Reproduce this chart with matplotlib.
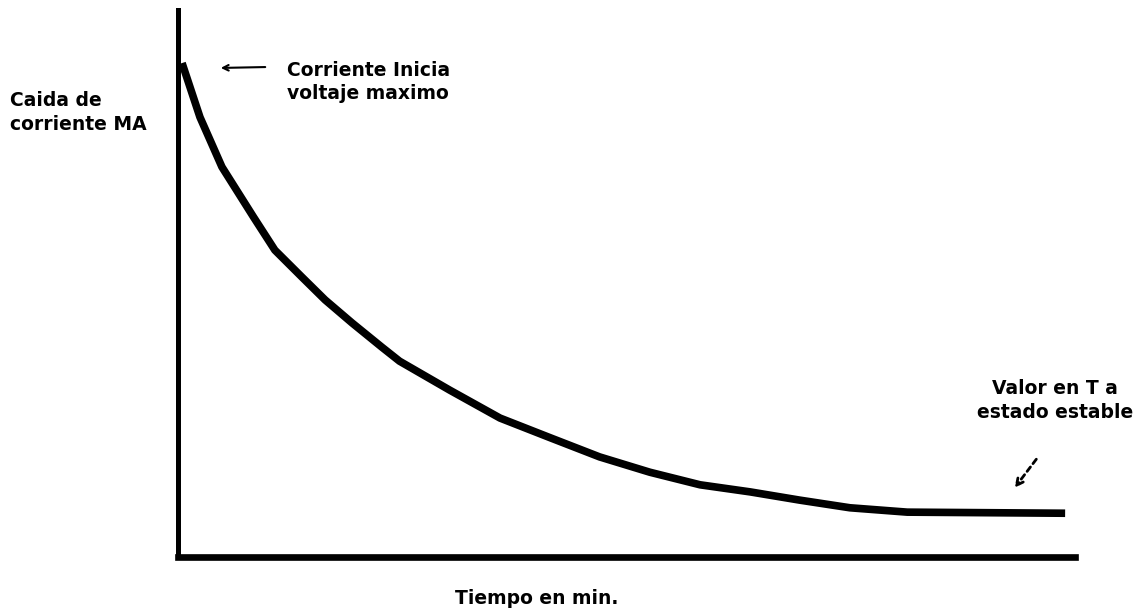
import matplotlib.pyplot as plt
from matplotlib.patches import FancyArrowPatch

# curve (time 0-100, current 0-100)
tiempo = [0.45, 2.45, 4.9, 8.4, 10.8, 13.8, 16.4, 19.4, 22.7, 24.7, 30.3, 35.9, 41.5,
          47.0, 52.6, 58.2, 63.8, 69.3, 74.9, 81.3, 98.9]
corriente = [90.3, 80.4, 71.3, 62.2, 56.1, 51.2, 47.0, 42.8, 38.4, 35.8, 30.5, 25.4, 21.8,
             18.3, 15.5, 13.2, 11.9, 10.4, 9.0, 8.2, 8.0]

W, H = 1143, 610
fig = plt.figure(figsize=(W / 100, H / 100), dpi=100)
ax = fig.add_axes([178 / W, (H - 557) / H, 897 / W, 547 / H])
ax.set_xlim(0, 100)
ax.set_ylim(0, 100)

ax.plot(tiempo, corriente, color='black', linewidth=5.5, solid_capstyle='butt')

for side in ['top', 'right']:
    ax.spines[side].set_visible(False)
ax.spines['left'].set_linewidth(3.6)
ax.spines['bottom'].set_linewidth(4.8)
ax.set_xticks([])
ax.set_yticks([])

font = dict(family='DejaVu Sans', fontweight='bold', fontsize=13.5, color='black', va='baseline')


def px(x, y):
    # pixel position -> figure fraction
    return x / W, 1 - y / H


fig.text(*px(10, 106), 'Caida de', ha='left', **font)
fig.text(*px(10, 130), 'corriente MA', ha='left', **font)
fig.text(*px(287, 76), 'Corriente Inicia', ha='left', **font)
fig.text(*px(287, 99), 'voltaje maximo', ha='left', **font)
fig.text(*px(1055, 394), 'Valor en T a', ha='center', **font)
fig.text(*px(1055, 418), 'estado estable', ha='center', **font)
fig.text(*px(537, 604), 'Tiempo en min.', ha='center', **font)

# arrows
fig.patches.append(FancyArrowPatch(
    px(268, 67), px(218, 68), transform=fig.transFigure,
    arrowstyle='->', mutation_scale=10, linewidth=1.5, color='black'))
fig.patches.append(FancyArrowPatch(
    px(1038, 457), px(1013, 490), transform=fig.transFigure,
    arrowstyle='->', mutation_scale=12, linewidth=2, linestyle=(0, (2, 1.5)), color='black'))

fig.savefig('out.png', dpi=100)
